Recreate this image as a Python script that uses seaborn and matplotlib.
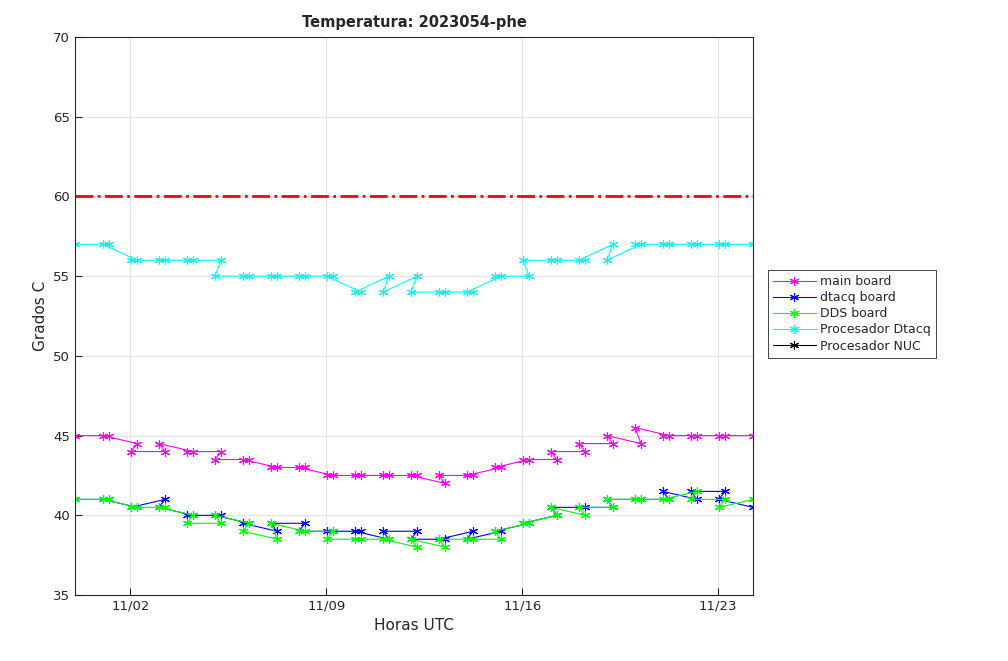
import numpy as np
import pandas as pd
import seaborn as sns
import matplotlib
matplotlib.use("Agg")
import matplotlib.pyplot as plt
import matplotlib.dates as mdates
from matplotlib.lines import Line2D

# sample times, in file order (later sample of each day first)
fechas = [
    "2023-10-31 00:35",
    "2023-11-01 05:45", "2023-11-01 00:35", "2023-11-02 05:45", "2023-11-02 00:35",
    "2023-11-03 05:45", "2023-11-03 00:35", "2023-11-04 05:45", "2023-11-04 00:35",
    "2023-11-05 05:45", "2023-11-05 00:35", "2023-11-06 05:45", "2023-11-06 00:35",
    "2023-11-07 05:45", "2023-11-07 00:35", "2023-11-08 05:45", "2023-11-08 00:35",
    "2023-11-09 05:45", "2023-11-09 00:35", "2023-11-10 05:45", "2023-11-10 00:35",
    "2023-11-11 05:45", "2023-11-11 00:35", "2023-11-12 05:45", "2023-11-12 00:35",
    "2023-11-13 05:45", "2023-11-13 00:35", "2023-11-14 05:45", "2023-11-14 00:35",
    "2023-11-15 05:45", "2023-11-15 00:35", "2023-11-16 05:45", "2023-11-16 00:35",
    "2023-11-17 05:45", "2023-11-17 00:35", "2023-11-18 05:45", "2023-11-18 00:35",
    "2023-11-19 05:45", "2023-11-19 00:35", "2023-11-20 05:45", "2023-11-20 00:35",
    "2023-11-21 05:45", "2023-11-21 00:35", "2023-11-22 05:45", "2023-11-22 00:35",
    "2023-11-23 05:45", "2023-11-23 00:35",
    "2023-11-24 05:45",
]

main_board = [45,
              45, 45, 44.5, 44, 44, 44.5, 44, 44, 44, 43.5, 43.5, 43.5, 43, 43, 43, 43,
              42.5, 42.5, 42.5, 42.5, 42.5, 42.5, 42.5, 42.5, 42, 42.5, 42.5, 42.5,
              43, 43, 43.5, 43.5, 43.5, 44, 44, 44.5, 44.5, 45, 44.5, 45.5, 45, 45,
              45, 45, 45, 45,
              45]
dtacq_board = [41,
               41, 41, 40.5, 40.5, 41, 40.5, 40, 40, 40, 40, 39.5, 39.5, 39, 39.5,
               39.5, 39, 39, 39, 39, 39, 38.5, 39, 39, 38.5, 38.5, 38.5, 39, 38.5,
               39, 39, 39.5, 39.5, 40, 40.5, 40.5, 40.5, 40.5, 41, 41, 41, 41, 41.5,
               41, 41.5, 41.5, 41,
               40.5]
dds_board = [41,
             41, 41, 40.5, 40.5, 40.5, 40.5, 40, 39.5, 39.5, 40, 39.5, 39, 38.5, 39.5,
             39, 39, 39, 38.5, 38.5, 38.5, 38.5, 38.5, 38, 38.5, 38, 38.5, 38.5, 38.5,
             38.5, 39, 39.5, 39.5, 40, 40.5, 40, 40.5, 40.5, 41, 41, 41, 41, 41,
             41.5, 41, 41, 40.5,
             41]
proc_dtacq = [57,
              57, 57, 56, 56, 56, 56, 56, 56, 56, 55, 55, 55, 55, 55, 55, 55, 55, 55,
              54, 54, 55, 54, 55, 54, 54, 54, 54, 54, 55, 55, 55, 56, 56, 56, 56, 56,
              57, 56, 57, 57, 57, 57, 57, 57, 57, 57,
              57]
proc_nuc = []

limite = 60
series = [
    ("main board", main_board, "#ff00ff"),
    ("dtacq board", dtacq_board, "#0000ff"),
    ("DDS board", dds_board, "#00ff00"),
    ("Procesador Dtacq", proc_dtacq, "#00ffff"),
    ("Procesador NUC", proc_nuc, "#000000"),
]

sns.set_style("ticks")
plt.rcParams["font.family"] = ["DejaVu Sans"]

t = pd.to_datetime(fechas)
asterisco = (6, 2, 0)
estilo = dict(linewidth=0.8, marker=asterisco, markersize=6.5, markeredgewidth=0.8)

fig = plt.figure(figsize=(10.08, 6.61), dpi=100)
ax = fig.add_axes([0.0744, 0.0998, 0.6726, 0.8442])

handles = []
for nombre, valores, color in series:
    if len(valores):
        sns.lineplot(x=t, y=valores, ax=ax, sort=False, estimator=None, color=color,
                     markeredgecolor=color, legend=False, **estilo)
        ax.lines[-1].set_color(color)
        ax.lines[-1].set_markeredgecolor(color)
    handles.append(Line2D([], [], color=color, markeredgecolor=color,
                          label=nombre, **estilo))

ax.axhline(limite, color="#ff0000", linestyle="-.", linewidth=2)

ax.set_xlim(t.min(), t.max())
ax.set_ylim(35, 70)
ax.set_yticks(np.arange(35, 71, 5))
ax.xaxis.set_major_locator(mdates.DayLocator(bymonthday=[2, 9, 16, 23]))
ax.xaxis.set_major_formatter(mdates.DateFormatter("%m/%d"))

ax.grid(True, color="#e3e3e3", linewidth=0.8)
ax.set_axisbelow(True)
for s in ax.spines.values():
    s.set_visible(True)
    s.set_color("#262626")
    s.set_linewidth(0.8)
ax.tick_params(direction="in", length=5, width=0.8, colors="#262626",
               labelsize=9.5, top=False, right=False)

ax.set_title("Temperatura: 2023054-phe", fontsize=10.5, fontweight="bold", pad=7)
ax.set_xlabel("Horas UTC", fontsize=11, color="#262626")
ax.set_ylabel("Grados C", fontsize=11, color="#262626")

leg = ax.legend(handles=handles, loc="upper left",
                bbox_to_anchor=(768 / 1008, 1 - 270 / 661),
                bbox_transform=fig.transFigure, fontsize=9, frameon=True,
                fancybox=False, framealpha=1, edgecolor="#262626",
                handlelength=3.4, labelspacing=0.25, borderaxespad=0,
                borderpad=0.4, handletextpad=0.4)
leg.get_frame().set_linewidth(0.6)

fig.savefig("out.png", dpi=100)
